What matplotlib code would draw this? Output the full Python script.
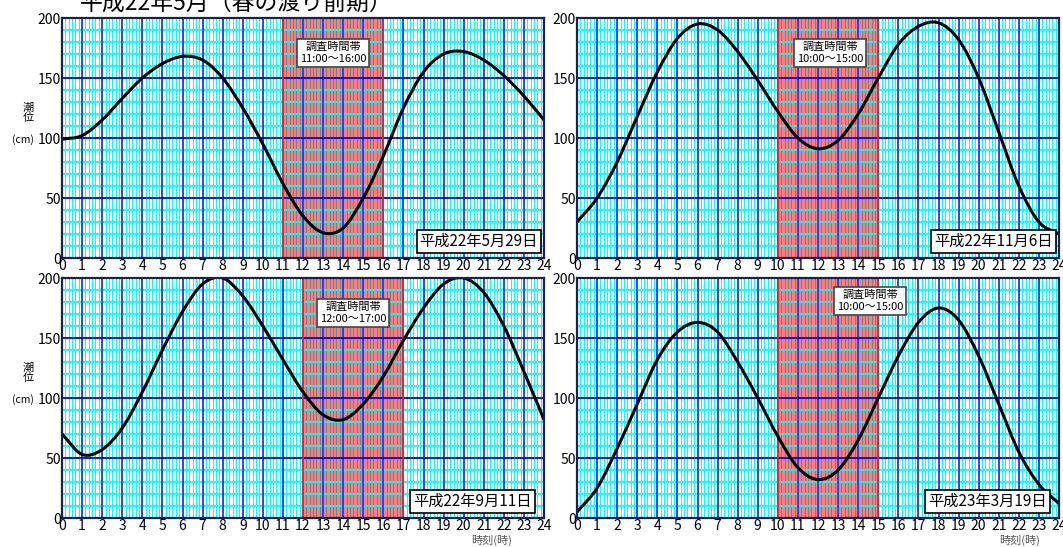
import matplotlib.pyplot as plt
from matplotlib.path import Path
from matplotlib.patches import PathPatch
import numpy as np

plt.rcParams['font.family'] = ['Noto Sans CJK JP', 'DejaVu Sans']

hours = list(range(25))

# tide level (cm), hourly readings
tide_0529 = [99, 102, 115, 133, 150, 162, 168, 165, 150, 125, 95, 62, 35,
             21, 25, 50, 85, 125, 155, 170, 172, 165, 152, 135, 115]
tide_1106 = [30, 50, 80, 118, 155, 183, 195, 190, 172, 148, 122, 100, 91,
             98, 120, 150, 178, 193, 196, 182, 150, 105, 60, 30, 20]
tide_0911 = [70, 53, 57, 75, 105, 140, 172, 195, 200, 185, 160, 132, 105,
             86, 82, 95, 118, 148, 175, 195, 200, 188, 160, 122, 82]
tide_0319 = [5, 25, 58, 95, 132, 155, 163, 155, 130, 100, 68, 42, 32,
             40, 65, 100, 135, 163, 175, 165, 135, 95, 55, 28, 12]

panels = [
    # date label, data, survey window, note position (hour, cm)
    ('平成22年5月29日', tide_0529, (11, 16), 13.5, 171),
    ('平成22年11月6日', tide_1106, (10, 15), 12.6, 171),
    ('平成22年9月11日', tide_0911, (12, 17), 14.5, 171),
    ('平成23年3月19日', tide_0319, (10, 15), 14.6, 181),
]


def smooth_path(xs, ys):
    # Catmull-Rom through the readings, drawn as cubic bezier segments
    xs = np.asarray(xs, float)
    ys = np.asarray(ys, float)
    pts = np.column_stack([xs, ys])
    ext = np.vstack([2 * pts[0] - pts[1], pts, 2 * pts[-1] - pts[-2]])
    verts = [pts[0]]
    codes = [Path.MOVETO]
    for i in range(1, len(ext) - 2):
        p0, p1, p2, p3 = ext[i - 1], ext[i], ext[i + 1], ext[i + 2]
        verts += [p1 + (p2 - p0) / 6, p2 - (p3 - p1) / 6, p2]
        codes += [Path.CURVE4] * 3
    return Path(verts, codes)


W, H = 1063, 547
fig = plt.figure(figsize=(W / 100, H / 100), dpi=100)

boxes = [(62, 18), (577, 18), (62, 278), (577, 278)]
aw, ah = 482, 240

for (label, tide, (t0, t1), nx, ny), (px, py) in zip(panels, boxes):
    ax = fig.add_axes([px / W, 1 - (py + ah) / H, aw / W, ah / H])
    ax.set_xlim(0, 24)
    ax.set_ylim(0, 200)

    # minor vertical grid every 10 minutes
    for m in np.arange(0, 24, 1 / 6):
        ax.axvline(m, color='#00ffff', lw=0.8, zorder=1)
    # survey window
    ax.axvspan(t0, t1, color='red', alpha=0.5, lw=0, zorder=2)
    # horizontal grid every 10 cm
    for v in range(10, 200, 10):
        if v % 50:
            ax.axhline(v, color='#00ffff', lw=1.3, zorder=3)
    for h in range(1, 24):
        ax.axvline(h, color='#1a3cff', lw=1.3, zorder=3)
    ax.axvline(t0, color='#ff2020', lw=1.2, zorder=4)
    ax.axvline(t1, color='#ff2020', lw=1.2, zorder=4)
    for v in (50, 100, 150):
        ax.axhline(v, color='#0000ff', lw=1.3, zorder=3)

    ax.add_patch(PathPatch(smooth_path(hours, tide), fc='none', ec='black',
                           lw=2.2, zorder=6, capstyle='round'))

    ax.text(nx, ny, f'調査時間帯\n{t0}:00～{t1}:00',
            ha='center', va='center', fontsize=8, linespacing=1.25, zorder=7,
            bbox=dict(boxstyle='square,pad=0.25', fc='white', ec='#444444', lw=1.2))
    ax.text(23.4 if py > 100 else 23.7, 14, label, ha='right', va='center',
            fontsize=11, zorder=7,
            bbox=dict(boxstyle='square,pad=0.2', fc='white', ec='black', lw=1.2))

    ax.set_xticks(hours)
    ax.set_yticks([0, 50, 100, 150, 200])
    ax.tick_params(length=0, labelsize=10, pad=1)
    for s in ax.spines.values():
        s.set_color('#1a2050')
        s.set_linewidth(1.6)
        s.set_zorder(8)

for py in (18, 278):
    fig.text(28 / W, 1 - (py + 95) / H, '潮\n位', ha='center', va='center',
             fontsize=8, linespacing=1.1)
    fig.text(23 / W, 1 - (py + 122) / H, '(cm)', ha='center', va='center',
             fontsize=7.5)

for x in (492, 1020):
    fig.text(x / W, 1 - 540 / H, '時刻(時)', ha='center', va='center',
             fontsize=8, color='#555555')

fig.text(80 / W, 1 - 11 / H, '平成22年5月（春の渡り前期）', ha='left', va='baseline',
         fontsize=16.5)

fig.savefig('out.png', dpi=100)
